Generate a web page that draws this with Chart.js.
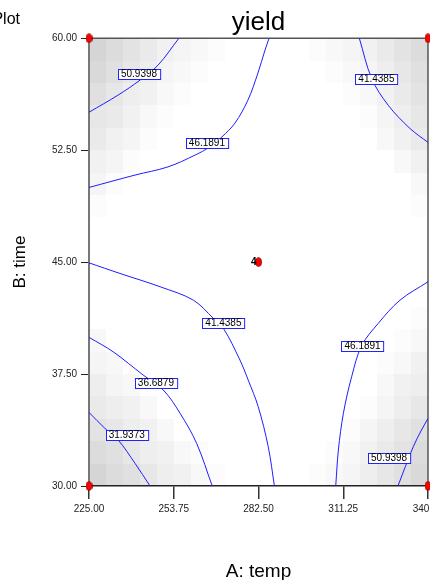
<!DOCTYPE html>
<html>
<head>
<meta charset="utf-8">
<script src="https://cdn.jsdelivr.net/npm/chart.js@4.4.0/dist/chart.umd.min.js"></script>
<style>
html, body { margin: 0; padding: 0; background: #fff; overflow: hidden; }
#wrap { width: 430px; height: 580px; overflow: hidden; }
</style>
</head>
<body>
<div id="wrap"><canvas id="contour" width="470" height="580"></canvas></div>
<script>
var xTicks = [225, 253.75, 282.5, 311.25, 340];
var yTicks = [30, 37.5, 45, 52.5, 60];

// design points (corners + centre, centre run 4 times)
var designA = [225, 225, 340, 340, 282.5];
var designB = [30, 60, 30, 60, 45];
var centreRuns = "4";

// contour lines
var tl51A = [225, 234.8, 242.3, 248.4, 255.5];
var tl51B = [55.04, 56.18, 57.19, 58.19, 60];
var tl46A = [225, 240.6, 251.8, 261.0, 266.0, 270.1, 274.5, 278.9, 282.3, 284.7, 286.1];
var tl46B = [50.0, 50.83, 51.38, 52.17, 52.72, 53.39, 54.31, 55.85, 57.66, 59.2, 60];
var tr41A = [316.7, 320.9, 326.5, 333.9, 340];
var tr41B = [60, 57.30, 55.51, 53.95, 53.02];
var mid41A = [225, 235.5, 249.1, 260.4, 267.2, 270.6, 276.2, 279.0, 282.4, 285.8, 287.9];
var mid41B = [44.95, 44.24, 43.35, 42.45, 41.23, 40.56, 38.44, 37.10, 35.31, 32.63, 30];
var bl37A = [225, 233.2, 243.4, 250.2, 255.9, 261.5, 266.8];
var bl37B = [39.96, 38.99, 37.43, 36.43, 34.87, 32.86, 30];
var bl32A = [225, 230.4, 234.9, 240.6, 245.7];
var bl32B = [34.93, 33.86, 33.08, 31.52, 30];
var br46A = [340, 330.5, 323.1, 317.5, 314.1, 311.3, 309.6, 308.7];
var br46B = [43.68, 42.45, 40.89, 39.40, 37.32, 34.87, 32.41, 30];
var br51A = [340, 337.8, 335.0, 329.8];
var br51B = [34.53, 33.75, 32.63, 30];

// contour labels
var labelText = ["50.9398", "46.1891", "41.4385", "41.4385", "36.6879", "31.9373", "46.1891", "50.9398"];
var labelA = [241.96, 265.0, 322.5, 270.6, 247.7, 237.8, 317.8, 326.8];
var labelB = [57.62, 53.0, 57.25, 40.92, 36.92, 33.41, 39.39, 31.89];

// background shading, 20x20 cells, top row first, 0 = white .. f = darkest
var shade = [
  "ca86432100000123468a",
  "b9753210000000123579",
  "97542100000000012468",
  "76421000000000001357",
  "64310000000000000246",
  "43100000000000000024",
  "31000000000000000002",
  "10000000000000000001",
  "00000000000000000000",
  "00000000000000000000",
  "00000000000000000000",
  "00000000000000000000",
  "00000000000000000001",
  "20000000000000000012",
  "32000000000000000124",
  "53200000000000000245",
  "65420000000000001357",
  "87542000000000013579",
  "a975421000000012468a",
  "ca97542100000123579b"
];

function pts(a, b) {
  return a.map(function (v, i) { return { x: v, y: b[i] }; });
}

function contour(a, b) {
  return {
    data: pts(a, b),
    showLine: true,
    borderColor: '#1e1eff',
    borderWidth: 1,
    pointRadius: 0,
    tension: 0.35,
    fill: false
  };
}

// red ellipse marker
var dot = document.createElement('canvas');
dot.width = 7; dot.height = 10;
(function () {
  var c = dot.getContext('2d');
  c.beginPath();
  c.ellipse(3.5, 5, 3, 4.3, 0, 0, Math.PI * 2);
  c.fillStyle = '#ff0000';
  c.fill();
  c.strokeStyle = '#8a0000';
  c.lineWidth = 0.8;
  c.stroke();
})();

var extras = {
  id: 'extras',
  beforeDraw: function (chart) {
    var ctx = chart.ctx, x = chart.scales.x, y = chart.scales.y;
    var dA = (xTicks[4] - xTicks[0]) / 20, dB = (yTicks[4] - yTicks[0]) / 20;
    ctx.save();
    shade.forEach(function (row, j) {
      for (var i = 0; i < row.length; i++) {
        var lv = parseInt(row[i], 16);
        if (!lv) continue;
        var g = Math.round(255 - lv * 3.5);
        var x0 = Math.round(x.getPixelForValue(xTicks[0] + i * dA));
        var x1 = Math.round(x.getPixelForValue(xTicks[0] + (i + 1) * dA));
        var y0 = Math.round(y.getPixelForValue(yTicks[4] - j * dB));
        var y1 = Math.round(y.getPixelForValue(yTicks[4] - (j + 1) * dB));
        ctx.fillStyle = 'rgb(' + g + ',' + g + ',' + g + ')';
        ctx.fillRect(x0, y0, x1 - x0, y1 - y0);
      }
    });
    ctx.restore();
  },
  beforeDatasetsDraw: function (chart) {
    var ctx = chart.ctx, a = chart.chartArea;
    ctx.save();
    ctx.strokeStyle = '#555';
    ctx.lineWidth = 1.5;
    ctx.beginPath();
    ctx.moveTo(a.left, a.top);
    ctx.lineTo(a.right, a.top);
    ctx.lineTo(a.right, a.bottom);
    ctx.stroke();
    ctx.restore();
  },
  afterDatasetsDraw: function (chart) {
    var ctx = chart.ctx, x = chart.scales.x, y = chart.scales.y;
    ctx.save();
    ctx.font = '10px "Liberation Sans", Arial, sans-serif';
    ctx.textAlign = 'center';
    ctx.textBaseline = 'middle';
    labelText.forEach(function (t, i) {
      var px = x.getPixelForValue(labelA[i]), py = y.getPixelForValue(labelB[i]);
      var w = ctx.measureText(t).width + 6, h = 10;
      var l = Math.round(px - w / 2) + 0.5, tp = Math.round(py - h / 2) + 0.5;
      ctx.fillStyle = '#fff';
      ctx.fillRect(l, tp, w, h);
      ctx.strokeStyle = '#2222ff';
      ctx.lineWidth = 1;
      ctx.strokeRect(l, tp, w, h);
      ctx.fillStyle = '#000';
      ctx.fillText(t, px, py + 0.5);
    });
    // replicate count at the centre point
    ctx.font = 'bold 10px "Liberation Sans", Arial, sans-serif';
    ctx.textAlign = 'right';
    ctx.fillText(centreRuns, x.getPixelForValue(designA[4]) - 2, y.getPixelForValue(designB[4]) + 0.5);
    ctx.restore();
  },
  afterDraw: function (chart) {
    var ctx = chart.ctx;
    ctx.save();
    ctx.font = '16px "Liberation Sans", Arial, sans-serif';
    ctx.fillStyle = '#000';
    ctx.textAlign = 'right';
    ctx.textBaseline = 'alphabetic';
    ctx.fillText('Plot', 20, 24);
    ctx.restore();
  }
};

var datasets = [{
  data: pts(designA, designB),
  showLine: false,
  pointStyle: dot,
  pointRadius: 4,
  clip: false
}].concat([
  contour(tl51A, tl51B),
  contour(tl46A, tl46B),
  contour(tr41A, tr41B),
  contour(mid41A, mid41B),
  contour(bl37A, bl37B),
  contour(bl32A, bl32B),
  contour(br46A, br46B),
  contour(br51A, br51B)
]);

var tickFont = { family: '"Liberation Sans", Arial, sans-serif', size: 10 };

new Chart(document.getElementById('contour'), {
  type: 'scatter',
  data: { datasets: datasets },
  options: {
    responsive: false,
    animation: false,
    devicePixelRatio: 1,
    layout: { padding: { left: 0, top: 0, right: 42, bottom: 0 } },
    plugins: {
      legend: { display: false },
      tooltip: { enabled: false },
      title: {
        display: true,
        text: 'yield',
        fullSize: false,
        color: '#000',
        font: { family: '"Liberation Sans", Arial, sans-serif', size: 26, weight: 'normal', lineHeight: 1.2 },
        padding: { top: 7, bottom: 0 }
      }
    },
    scales: {
      x: {
        type: 'linear',
        min: xTicks[0],
        max: xTicks[xTicks.length - 1],
        afterBuildTicks: function (s) { s.ticks = xTicks.map(function (v) { return { value: v }; }); },
        afterFit: function (s) { s.height = 94; },
        ticks: {
          color: '#222',
          font: tickFont,
          padding: 4,
          maxRotation: 0,
          autoSkip: false,
          callback: function (v) { return Number(v).toFixed(2); }
        },
        grid: { drawOnChartArea: false, drawTicks: true, tickLength: 13, color: '#333', lineWidth: 1.5 },
        border: { display: true, color: '#222', width: 1.5 },
        title: {
          display: true,
          text: 'A: temp',
          color: '#000',
          font: { family: '"Liberation Sans", Arial, sans-serif', size: 19 },
          padding: { top: 0, bottom: -3 }
        }
      },
      y: {
        type: 'linear',
        min: yTicks[0],
        max: yTicks[yTicks.length - 1],
        afterBuildTicks: function (s) { s.ticks = yTicks.map(function (v) { return { value: v }; }); },
        afterFit: function (s) { s.width = 89; },
        ticks: {
          color: '#222',
          font: tickFont,
          padding: 4,
          autoSkip: false,
          callback: function (v) { return Number(v).toFixed(2); }
        },
        grid: { drawOnChartArea: false, drawTicks: true, tickLength: 8, color: '#222', lineWidth: 1 },
        border: { display: true, color: '#777', width: 2 },
        title: {
          display: true,
          text: 'B: time',
          color: '#000',
          font: { family: '"Liberation Sans", Arial, sans-serif', size: 17 },
          padding: { top: 10, bottom: 0 }
        }
      }
    }
  },
  plugins: [extras]
});
</script>
</body>
</html>
